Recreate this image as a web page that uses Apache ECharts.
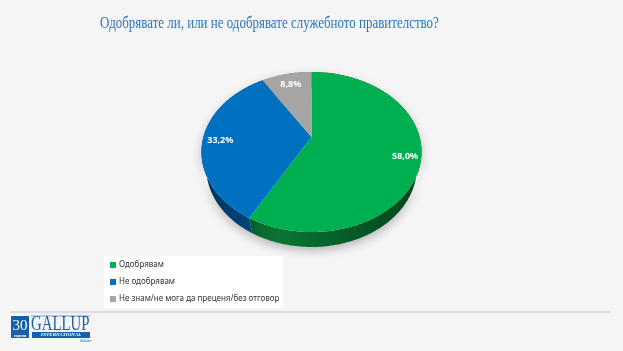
<!DOCTYPE html>
<html>
<head>
<meta charset="utf-8">
<script src="https://cdn.jsdelivr.net/npm/echarts@6/dist/echarts.min.js"></script>
<style>
  html, body { margin: 0; padding: 0; background: #f5f5f5; }
  #chart { width: 623px; height: 351px; }
</style>
</head>
<body>
<div id="chart"></div>
<script>
// данни
const titleText = 'Одобрявате ли, или не одобрявате служебното правителство?';
const categories = ['Одобрявам', 'Не одобрявам', 'Не знам/не мога да преценя/без отговор'];
const values = [58.0, 33.2, 8.8];
const colors = ['#00b050', '#0070c0', '#a5a5a5'];
const sideColors = [
  ['#00441a', '#0a7434', '#00431a'],
  ['#00335c', '#004f8c', '#00335c'],
  ['#5e5e5e', '#7a7a7a', '#5e5e5e']
];

// перспектива на 3D пая
const cx = 311.5, cy = 137, F = 403, D = 3.73;
const sinA = 0.7145, cosA = 0.6996, H = 0.223;

function project(X, Z, Y) {
  const depth = D + Z * cosA - Y * sinA;
  const up = Z * sinA + Y * cosA;
  return [cx + F * X / depth, cy - F * up / depth];
}
function arc(a0, a1, r, Y) {
  const pts = [];
  const n = Math.max(2, Math.ceil(Math.abs(a1 - a0) / 0.02));
  for (let i = 0; i <= n; i++) {
    const a = a0 + (a1 - a0) * i / n;
    pts.push(project(r * Math.sin(a), r * Math.cos(a), Y));
  }
  return pts;
}

const total = values.reduce((s, v) => s + v, 0);
const starts = [];
values.reduce((acc, v, i) => { starts[i] = acc; return acc + v; }, 0);

function fmt(v) { return v.toFixed(1).replace('.', ',') + '%'; }

const series = categories.map((name, idx) => ({
  type: 'custom',
  name: name,
  coordinateSystem: 'none',
  itemStyle: { color: colors[idx] },
  silent: true,
  data: [values[idx]],
  renderItem: function (params, api) {
    const v = api.value(0);
    const a0 = starts[idx] / total * Math.PI * 2;
    const a1 = (starts[idx] + v) / total * Math.PI * 2;
    const top = arc(a0, a1, 1, 0);
    const bottom = arc(a1, a0, 1, -H);
    const sc = sideColors[idx];
    const mid = (a0 + a1) / 2;
    const lp = project(0.85 * Math.sin(mid), 0.85 * Math.cos(mid), 0);
    return {
      type: 'group',
      children: [
        {
          type: 'polygon',
          z2: 0,
          shape: { points: top.concat(bottom) },
          style: {
            fill: new echarts.graphic.LinearGradient(200, 0, 423, 0, [
              { offset: 0, color: sc[0] },
              { offset: 0.35, color: sc[1] },
              { offset: 1, color: sc[2] }
            ], true),
            shadowBlur: 10,
            shadowOffsetY: 4,
            shadowColor: 'rgba(0,0,0,0.25)'
          }
        },
        {
          type: 'polygon',
          z2: 10,
          shape: { points: [project(0, 0, 0)].concat(top) },
          style: { fill: colors[idx] }
        },
        {
          type: 'text',
          z2: 20,
          x: lp[0] + 1,
          y: lp[1] + 2,
          style: {
            text: fmt(v),
            fill: '#ffffff',
            font: 'bold 9px "Noto Sans", sans-serif',
            align: 'center',
            verticalAlign: 'middle'
          }
        }
      ]
    };
  }
}));

const chart = echarts.init(document.getElementById('chart'));
chart.setOption({
  backgroundColor: '#f5f5f5',
  animation: false,
  legend: {
    orient: 'vertical',
    left: 104,
    top: 256,
    padding: [4, 4, 4, 6],
    backgroundColor: '#ffffff',
    icon: 'rect',
    itemWidth: 6,
    itemHeight: 6,
    itemGap: 7,
    selectedMode: false,
    data: categories,
    textStyle: {
      color: '#333333',
      fontFamily: '"Noto Sans", sans-serif',
      fontSize: 8,
      lineHeight: 10,
      padding: [0, 0, 0, -2]
    }
  },
  series: series,
  graphic: [
    {
      type: 'text',
      x: 100, y: 24,
      scaleX: 0.81,
      style: {
        text: titleText,
        fill: '#2a76bd',
        font: '16px "Liberation Serif", serif',
        align: 'left',
        verticalAlign: 'middle'
      }
    },
    {
      type: 'line',
      shape: { x1: 10, y1: 312, x2: 610, y2: 312 },
      style: { stroke: '#d3d3d3', lineWidth: 1.5 }
    },
    {
      type: 'rect',
      shape: { x: 11, y: 316, width: 18, height: 22 },
      style: { fill: '#1560a8' }
    },
    {
      type: 'text',
      x: 20, y: 326,
      style: { text: '30', fill: '#fff', font: '15px "Liberation Serif", serif', align: 'center', verticalAlign: 'middle' }
    },
    {
      type: 'text',
      x: 20, y: 335.5,
      style: { text: 'години', fill: '#fff', font: 'bold 4px "Liberation Serif", serif', align: 'center', verticalAlign: 'middle' }
    },
    {
      type: 'line',
      shape: { x1: 31, y1: 316, x2: 90, y2: 316 },
      style: { stroke: '#1560a8', lineWidth: 0.6 }
    },
    {
      type: 'text',
      x: 31, y: 324.5,
      scaleX: 0.74,
      style: { text: 'GALLUP', fill: '#1560a8', font: '20px "Liberation Serif", serif', align: 'left', verticalAlign: 'middle' }
    },
    {
      type: 'rect',
      shape: { x: 32, y: 332, width: 58, height: 6 },
      style: { fill: '#1560a8' }
    },
    {
      type: 'text',
      x: 61, y: 335,
      style: { text: 'INTERNATIONAL', fill: '#fff', font: 'italic bold 5px "Liberation Serif", serif', align: 'center', verticalAlign: 'middle' }
    },
    {
      type: 'text',
      x: 86, y: 341,
      style: { text: 'Balkans', fill: '#1560a8', font: 'italic 3.5px "Liberation Serif", serif', align: 'center', verticalAlign: 'middle' }
    }
  ]
});
</script>
</body>
</html>
